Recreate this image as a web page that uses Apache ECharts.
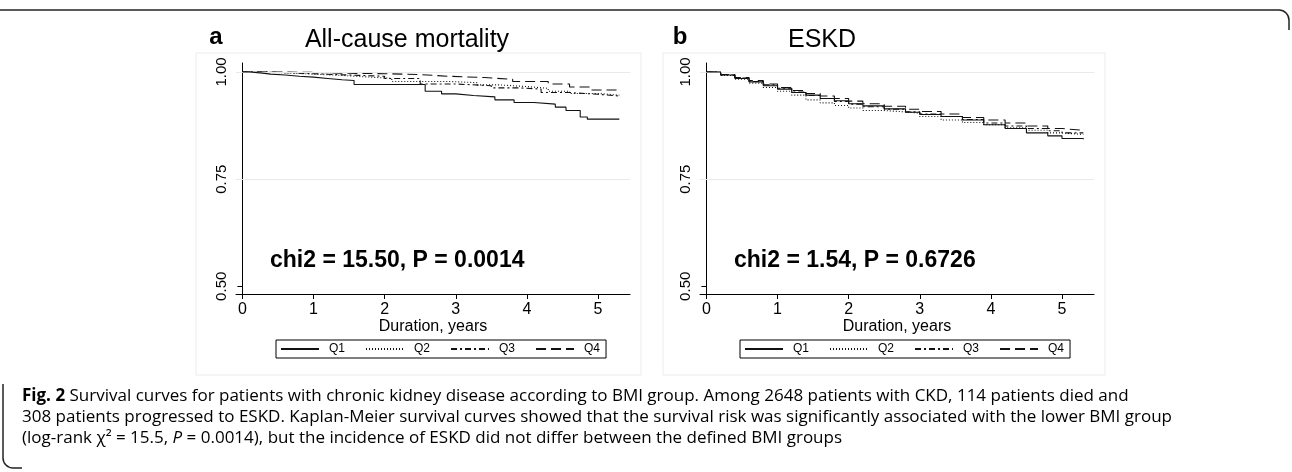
<!DOCTYPE html>
<html><head><meta charset="utf-8">
<script src="https://cdn.jsdelivr.net/npm/echarts@6/dist/echarts.min.js"></script>
<style>html,body{margin:0;padding:0;background:#fff}#c{width:1292px;height:472px}</style>
</head><body><div id="c"></div><script>
// ---- data ----
const groups = ['Q1', 'Q2', 'Q3', 'Q4'];
const durationTicks = [0, 1, 2, 3, 4, 5];
const survivalTicks = [0.50, 0.75, 1.00];
const survivalGrid = [0.75, 1.00];
const panelTitles = ['All-cause mortality', 'ESKD'];
const panelLetters = ['a', 'b'];
const testLabels = ['chi2 = 15.50, P = 0.0014', 'chi2 = 1.54, P = 0.6726'];

// All-cause mortality, Kaplan-Meier [years, survival]
const mortQ1 = [[0,1],[0.1,0.998],[0.25,0.995],[0.4,0.993],[0.6,0.990],[0.8,0.988],[1.0,0.985],[1.2,0.982],[1.4,0.980],[1.57,0.971],[2.57,0.955],[2.8,0.949],[3.0,0.945],[3.25,0.942],[3.55,0.935],[3.82,0.929],[4.1,0.925],[4.4,0.918],[4.55,0.910],[4.75,0.895],[4.85,0.890],[5.3,0.890]];
const mortQ2 = [[0,1],[0.3,0.998],[0.6,0.995],[1.0,0.992],[1.4,0.988],[1.8,0.985],[2.1,0.978],[2.9,0.975],[3.3,0.970],[3.6,0.966],[4.0,0.962],[4.3,0.955],[4.6,0.950],[5.0,0.946],[5.3,0.946]];
const mortQ3 = [[0,1],[0.3,0.998],[0.7,0.996],[1.0,0.993],[1.5,0.990],[2.0,0.985],[2.5,0.972],[3.0,0.968],[3.5,0.963],[3.9,0.960],[4.2,0.952],[4.6,0.948],[5.0,0.944],[5.3,0.944]];
const mortQ4 = [[0,1],[0.5,0.999],[1.0,0.997],[1.5,0.996],[2.0,0.994],[2.5,0.990],[2.9,0.987],[3.4,0.983],[3.8,0.978],[4.3,0.972],[4.6,0.965],[4.9,0.958],[5.3,0.958]];

// ESKD, Kaplan-Meier [years, survival]
const eskdQ1 = [[0,1],[0.2,0.993],[0.4,0.985],[0.6,0.977],[0.8,0.968],[1.0,0.960],[1.2,0.952],[1.4,0.946],[1.6,0.938],[1.8,0.933],[2.0,0.926],[2.2,0.921],[2.5,0.914],[2.8,0.906],[3.0,0.901],[3.3,0.896],[3.6,0.888],[3.9,0.877],[4.2,0.868],[4.5,0.858],[4.8,0.851],[5.0,0.845],[5.3,0.843]];
const eskdQ2 = [[0,1],[0.2,0.992],[0.4,0.983],[0.6,0.974],[0.8,0.964],[1.0,0.955],[1.2,0.946],[1.4,0.935],[1.6,0.928],[1.8,0.922],[2.0,0.916],[2.2,0.910],[2.5,0.907],[2.8,0.904],[3.0,0.896],[3.3,0.888],[3.6,0.882],[3.9,0.877],[4.2,0.870],[4.5,0.864],[4.8,0.858],[5.0,0.854],[5.3,0.853]];
const eskdQ3 = [[0,1],[0.2,0.993],[0.4,0.986],[0.6,0.978],[0.8,0.970],[1.0,0.962],[1.2,0.953],[1.4,0.945],[1.6,0.938],[1.8,0.931],[2.0,0.925],[2.2,0.919],[2.5,0.913],[2.8,0.907],[3.0,0.902],[3.3,0.896],[3.6,0.889],[3.9,0.881],[4.2,0.874],[4.5,0.868],[4.8,0.863],[5.0,0.858],[5.3,0.857]];
const eskdQ4 = [[0,1],[0.2,0.994],[0.4,0.987],[0.6,0.980],[0.8,0.972],[1.0,0.964],[1.2,0.957],[1.4,0.950],[1.6,0.944],[1.8,0.938],[2.0,0.932],[2.2,0.926],[2.5,0.920],[2.8,0.913],[3.0,0.908],[3.3,0.902],[3.6,0.894],[3.9,0.888],[4.2,0.881],[4.5,0.874],[4.8,0.868],[5.0,0.864],[5.3,0.862]];

const panelData = [[mortQ1, mortQ2, mortQ3, mortQ4], [eskdQ1, eskdQ2, eskdQ3, eskdQ4]];

// ---- styling ----
const FONT = '"Liberation Sans", Arial, sans-serif';
const CAP = '"Open Sans", "Noto Sans", sans-serif';
const lineStyles = [
  {type: 'solid', width: 1.1},
  {type: [1, 2], width: 1.1},
  {type: [6, 3, 2, 3], width: 1.1},
  {type: [10, 5], width: 1.1}
];
const gridLeft = [236, 700];
const gridTop = 63, gridW = 394, gridH = 231;

const chart = echarts.init(document.getElementById('c'), null, {renderer: 'canvas'});

const grids = [], xAxes = [], yAxes = [], series = [];
for (let p = 0; p < 2; p++) {
  grids.push({left: gridLeft[p], top: gridTop, width: gridW, height: gridH, containLabel: false});
  xAxes.push({
    type: 'value', gridIndex: p, min: -0.09, max: 5.45,
    name: 'Duration, years', nameLocation: 'middle', nameGap: 23,
    nameTextStyle: {fontFamily: FONT, fontSize: 16, color: '#000'},
    axisLine: {show: true, lineStyle: {color: '#000', width: 1}},
    axisTick: {show: true, length: 5, customValues: durationTicks, lineStyle: {color: '#000'}},
    axisLabel: {show: true, customValues: durationTicks, margin: 8, fontFamily: FONT, fontSize: 16, color: '#000'},
    splitLine: {show: false}
  });
  yAxes.push({
    type: 'value', gridIndex: p, min: 0.482, max: 1.021,
    axisLine: {show: true, lineStyle: {color: '#000', width: 1}},
    axisTick: {show: true, length: 5, customValues: survivalTicks, lineStyle: {color: '#000'}},
    axisLabel: {show: true, customValues: survivalTicks, rotate: 90, margin: 7, fontFamily: FONT, fontSize: 15, color: '#000',
      formatter: v => v.toFixed(2)},
    splitLine: {show: false}
  });
  panelData[p].forEach((d, i) => {
    const s = {
      type: 'line', name: groups[i], xAxisIndex: p, yAxisIndex: p,
      data: d, step: 'end', symbol: 'none', showSymbol: false, silent: true,
      z: 5 - i,
      lineStyle: Object.assign({color: '#111'}, lineStyles[i]),
      itemStyle: {color: '#111'},
      animation: false
    };
    if (i === 0) {
      s.markLine = {
        silent: true, symbol: 'none', animation: false, label: {show: false},
        lineStyle: {color: '#e9e9e9', width: 1, type: 'solid'},
        data: survivalGrid.map(v => ({yAxis: v}))
      };
    }
    series.push(s);
  });
}

const legends = gridLeft.map((gl, p) => ({
  data: groups, left: gl + 40, top: 340, orient: 'horizontal',
  itemWidth: 38, itemHeight: 14, itemGap: 20,
  itemStyle: {opacity: 0, borderWidth: 0},
  borderColor: '#000', borderWidth: 1, borderRadius: 0, padding: [3, 6, 3, 4],
  textStyle: {fontFamily: FONT, fontSize: 12, color: '#000', padding: [0, 0, 0, 5]},
  selectedMode: false
}));

const frameStyle = {fill: 'none', stroke: '#222', lineWidth: 1.5};
const titleX = [407, 822];
const letterX = [216, 680];
const graphics = [
  // outer figure frame (open rounded frame)
  {type: 'line', shape: {x1: 0, y1: 10, x2: 1279, y2: 10}, style: frameStyle, silent: true},
  {type: 'arc', shape: {cx: 1279, cy: 20, r: 10, startAngle: -Math.PI / 2, endAngle: 0, clockwise: true}, style: frameStyle, silent: true},
  {type: 'line', shape: {x1: 1289, y1: 20, x2: 1289, y2: 30}, style: frameStyle, silent: true},
  {type: 'line', shape: {x1: 3, y1: 384, x2: 3, y2: 458}, style: frameStyle, silent: true},
  {type: 'arc', shape: {cx: 13, cy: 458, r: 10, startAngle: Math.PI / 2, endAngle: Math.PI, clockwise: true}, style: frameStyle, silent: true},
  {type: 'line', shape: {x1: 13, y1: 468, x2: 22, y2: 468}, style: frameStyle, silent: true},
  // panel graph regions
  {type: 'rect', shape: {x: 196, y: 53, width: 445, height: 322}, style: {fill: 'none', stroke: '#ececec', lineWidth: 1}, silent: true, z: -1},
  {type: 'rect', shape: {x: 663, y: 53, width: 442, height: 322}, style: {fill: 'none', stroke: '#ececec', lineWidth: 1}, silent: true, z: -1}
];
for (let p = 0; p < 2; p++) {
  graphics.push({type: 'text', x: letterX[p], y: 37, style: {text: panelLetters[p], font: 'bold 24px ' + FONT, fill: '#000', textAlign: 'center', textVerticalAlign: 'middle'}});
  graphics.push({type: 'text', x: titleX[p], y: 40, style: {text: panelTitles[p], font: '25px ' + FONT, fill: '#000', textAlign: 'center', textVerticalAlign: 'middle'}});
  graphics.push({type: 'text', x: gridLeft[p] + 34, y: 261, style: {text: testLabels[p], font: 'bold 23px ' + FONT, fill: '#000', textAlign: 'left', textVerticalAlign: 'middle'}});
}
// caption
const capRich = {
  b: {fontFamily: CAP, fontWeight: 'bold', fontSize: 17, fill: '#000'},
  n: {fontFamily: CAP, fontSize: 17, fill: '#000'},
  i: {fontFamily: CAP, fontStyle: 'italic', fontSize: 17, fill: '#000'}
};
const capLines = [
  '{b|Fig. 2}{n| Survival curves for patients with chronic kidney disease according to BMI group. Among 2648 patients with CKD, 114 patients died and}',
  '{n|308 patients progressed to ESKD. Kaplan-Meier survival curves showed that the survival risk was significantly associated with the lower BMI group}',
  '{n|(log-rank χ² = 15.5, }{i|P}{n| = 0.0014), but the incidence of ESKD did not differ between the defined BMI groups}'
];
const capY = [396, 417, 438];
capLines.forEach((t, k) => graphics.push({type: 'text', x: 22, y: capY[k],
  style: {text: t, rich: capRich, textVerticalAlign: 'middle', textAlign: 'left'}}));

chart.setOption({
  animation: false,
  backgroundColor: '#fff',
  grid: grids, xAxis: xAxes, yAxis: yAxes, series: series,
  legend: legends,
  graphic: graphics
});
</script></body></html>
